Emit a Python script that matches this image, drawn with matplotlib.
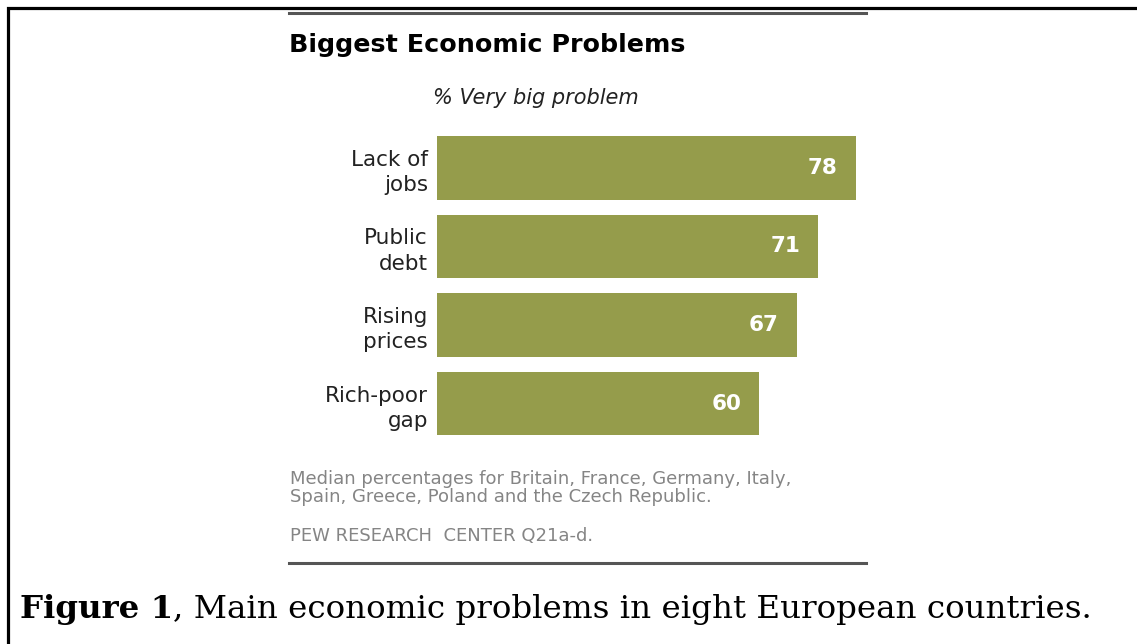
import matplotlib
matplotlib.use('Agg')
import matplotlib.pyplot as plt
from matplotlib.lines import Line2D

# data
categories = ["Lack of\njobs", "Public\ndebt", "Rising\nprices", "Rich-poor\ngap"]
values = [78, 71, 67, 60]

title = "Biggest Economic Problems"
subtitle = "% Very big problem"
note_lines = "Median percentages for Britain, France, Germany, Italy,\nSpain, Greece, Poland and the Czech Republic."
source = "PEW RESEARCH  CENTER Q21a-d."
caption_bold = "Figure 1"
caption_rest = ", Main economic problems in eight European countries."

W, H = 1137, 644
BAR_COLOR = "#959c4b"


def fx(px):
    return px / W


def fy(py):
    return 1 - py / H


fig = plt.figure(figsize=(W / 100, H / 100), dpi=100)
fig.patch.set_facecolor("white")

# bar axes: 0 at x=437px, 5.372 px per unit; bar rows 78.5px apart
ax = fig.add_axes([fx(437), fy(442.75), 537.2 / W, 314 / H])
ypos = list(range(len(values)))
ax.barh(ypos, values, height=0.815, color=BAR_COLOR)
ax.set_xlim(0, 100)
ax.set_ylim(3.5, -0.5)
ax.set_yticks(ypos)
ax.set_yticklabels(categories, fontsize=15.5, color="#222222", linespacing=1.32)
ax.tick_params(axis="y", length=0, pad=6.5)
ax.set_xticks([])
for s in ax.spines.values():
    s.set_visible(False)
ax.patch.set_visible(False)

for i, v in enumerate(values):
    ax.annotate(str(v), xy=(v, i), xytext=(-13, 0), textcoords="offset points",
                ha="right", va="center", color="white", fontsize=15.5,
                fontweight="bold")

# titles
fig.text(fx(289), fy(52), title, fontsize=18.3, fontweight="bold",
         color="black", ha="left", va="baseline")
fig.text(fx(536), fy(98), subtitle, fontsize=15, style="italic",
         color="#222222", ha="center", va="center")

# footnotes
fig.text(fx(290), fy(488), note_lines, fontsize=13, color="#858585",
         ha="left", va="center", linespacing=1.05)
fig.text(fx(290), fy(536), source, fontsize=13, color="#858585",
         ha="left", va="center")

# gray rules
for yy in (13, 563):
    fig.add_artist(Line2D([fx(289), fx(866)], [fy(yy), fy(yy)],
                          color="#555555", lw=2.2))

# outer frame (left and top edges)
fig.add_artist(Line2D([fx(7.5), fx(7.5), 1], [0, fy(7.5), fy(7.5)],
                      color="black", lw=2.3, solid_joinstyle="miter"))

# caption
cb = fig.text(fx(20), fy(618), caption_bold, fontsize=23.4, fontweight="bold",
              family="DejaVu Serif", ha="left", va="baseline", color="black")
fig.text(fx(20), fy(618), caption_rest, fontsize=23.4, family="DejaVu Serif",
         ha="left", va="baseline", color="black")
fig.canvas.draw()
bb = cb.get_window_extent()
fig.texts[-1].set_x(bb.x1 / W)

fig.savefig("out.png", dpi=100)
